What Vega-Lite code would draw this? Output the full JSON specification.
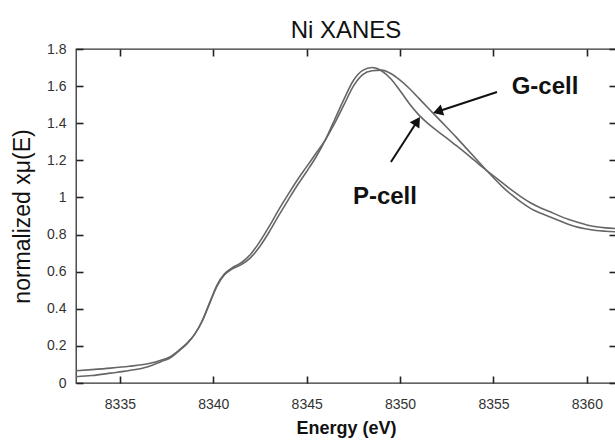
{
  "$schema": "https://vega.github.io/schema/vega-lite/v6.json",
  "width": 540,
  "height": 334,
  "autosize": {"type": "none"},
  "padding": {"left": 76, "top": 49, "right": 0, "bottom": 57},
  "background": "white",
  "title": {
    "text": "Ni XANES",
    "font": "Liberation Sans, Arial, sans-serif",
    "fontSize": 24,
    "fontWeight": "normal",
    "color": "#111",
    "baseline": "alphabetic",
    "offset": 9,
    "dy": 29
  },
  "config": {
    "view": {"stroke": "#333", "strokeWidth": 1.3},
    "axis": {
      "labelFont": "Liberation Sans, Arial, sans-serif",
      "labelFontSize": 14,
      "labelColor": "#333",
      "tickColor": "#222",
      "tickWidth": 1.6,
      "tickSize": 7,
      "offset": -7,
      "grid": false,
      "domain": false,
      "zindex": 1
    }
  },
  "datasets": {
    "spectra": [
      {"energy": 8332.65, "mu": 0.066, "cell": "P-cell"},
      {"energy": 8333.5, "mu": 0.072, "cell": "P-cell"},
      {"energy": 8334.5, "mu": 0.080, "cell": "P-cell"},
      {"energy": 8335.5, "mu": 0.090, "cell": "P-cell"},
      {"energy": 8336.5, "mu": 0.104, "cell": "P-cell"},
      {"energy": 8337.2, "mu": 0.122, "cell": "P-cell"},
      {"energy": 8337.7, "mu": 0.142, "cell": "P-cell"},
      {"energy": 8338.2, "mu": 0.180, "cell": "P-cell"},
      {"energy": 8338.6, "mu": 0.215, "cell": "P-cell"},
      {"energy": 8339.0, "mu": 0.262, "cell": "P-cell"},
      {"energy": 8339.4, "mu": 0.332, "cell": "P-cell"},
      {"energy": 8339.8, "mu": 0.428, "cell": "P-cell"},
      {"energy": 8340.2, "mu": 0.522, "cell": "P-cell"},
      {"energy": 8340.6, "mu": 0.583, "cell": "P-cell"},
      {"energy": 8341.0, "mu": 0.614, "cell": "P-cell"},
      {"energy": 8341.5, "mu": 0.638, "cell": "P-cell"},
      {"energy": 8342.0, "mu": 0.676, "cell": "P-cell"},
      {"energy": 8342.5, "mu": 0.737, "cell": "P-cell"},
      {"energy": 8343.0, "mu": 0.815, "cell": "P-cell"},
      {"energy": 8343.5, "mu": 0.902, "cell": "P-cell"},
      {"energy": 8344.0, "mu": 0.985, "cell": "P-cell"},
      {"energy": 8344.5, "mu": 1.066, "cell": "P-cell"},
      {"energy": 8345.0, "mu": 1.140, "cell": "P-cell"},
      {"energy": 8345.5, "mu": 1.218, "cell": "P-cell"},
      {"energy": 8346.0, "mu": 1.310, "cell": "P-cell"},
      {"energy": 8346.5, "mu": 1.420, "cell": "P-cell"},
      {"energy": 8347.0, "mu": 1.530, "cell": "P-cell"},
      {"energy": 8347.5, "mu": 1.630, "cell": "P-cell"},
      {"energy": 8348.0, "mu": 1.685, "cell": "P-cell"},
      {"energy": 8348.5, "mu": 1.700, "cell": "P-cell"},
      {"energy": 8349.0, "mu": 1.683, "cell": "P-cell"},
      {"energy": 8349.5, "mu": 1.640, "cell": "P-cell"},
      {"energy": 8350.0, "mu": 1.575, "cell": "P-cell"},
      {"energy": 8350.5, "mu": 1.505, "cell": "P-cell"},
      {"energy": 8351.0, "mu": 1.445, "cell": "P-cell"},
      {"energy": 8351.5, "mu": 1.398, "cell": "P-cell"},
      {"energy": 8352.0, "mu": 1.358, "cell": "P-cell"},
      {"energy": 8352.5, "mu": 1.320, "cell": "P-cell"},
      {"energy": 8353.0, "mu": 1.280, "cell": "P-cell"},
      {"energy": 8353.5, "mu": 1.240, "cell": "P-cell"},
      {"energy": 8354.0, "mu": 1.198, "cell": "P-cell"},
      {"energy": 8354.5, "mu": 1.156, "cell": "P-cell"},
      {"energy": 8355.0, "mu": 1.116, "cell": "P-cell"},
      {"energy": 8355.5, "mu": 1.077, "cell": "P-cell"},
      {"energy": 8356.0, "mu": 1.038, "cell": "P-cell"},
      {"energy": 8356.5, "mu": 1.002, "cell": "P-cell"},
      {"energy": 8357.0, "mu": 0.970, "cell": "P-cell"},
      {"energy": 8357.5, "mu": 0.945, "cell": "P-cell"},
      {"energy": 8358.0, "mu": 0.924, "cell": "P-cell"},
      {"energy": 8358.5, "mu": 0.902, "cell": "P-cell"},
      {"energy": 8359.0, "mu": 0.882, "cell": "P-cell"},
      {"energy": 8359.5, "mu": 0.866, "cell": "P-cell"},
      {"energy": 8360.0, "mu": 0.852, "cell": "P-cell"},
      {"energy": 8360.5, "mu": 0.842, "cell": "P-cell"},
      {"energy": 8361.0, "mu": 0.836, "cell": "P-cell"},
      {"energy": 8361.56, "mu": 0.832, "cell": "P-cell"},
      {"energy": 8332.65, "mu": 0.034, "cell": "G-cell"},
      {"energy": 8333.5, "mu": 0.040, "cell": "G-cell"},
      {"energy": 8334.5, "mu": 0.053, "cell": "G-cell"},
      {"energy": 8335.5, "mu": 0.067, "cell": "G-cell"},
      {"energy": 8336.5, "mu": 0.088, "cell": "G-cell"},
      {"energy": 8337.2, "mu": 0.115, "cell": "G-cell"},
      {"energy": 8337.7, "mu": 0.136, "cell": "G-cell"},
      {"energy": 8338.2, "mu": 0.176, "cell": "G-cell"},
      {"energy": 8338.6, "mu": 0.212, "cell": "G-cell"},
      {"energy": 8339.0, "mu": 0.262, "cell": "G-cell"},
      {"energy": 8339.4, "mu": 0.334, "cell": "G-cell"},
      {"energy": 8339.8, "mu": 0.432, "cell": "G-cell"},
      {"energy": 8340.2, "mu": 0.528, "cell": "G-cell"},
      {"energy": 8340.6, "mu": 0.588, "cell": "G-cell"},
      {"energy": 8341.0, "mu": 0.620, "cell": "G-cell"},
      {"energy": 8341.5, "mu": 0.648, "cell": "G-cell"},
      {"energy": 8342.0, "mu": 0.694, "cell": "G-cell"},
      {"energy": 8342.5, "mu": 0.763, "cell": "G-cell"},
      {"energy": 8343.0, "mu": 0.845, "cell": "G-cell"},
      {"energy": 8343.5, "mu": 0.933, "cell": "G-cell"},
      {"energy": 8344.0, "mu": 1.015, "cell": "G-cell"},
      {"energy": 8344.5, "mu": 1.094, "cell": "G-cell"},
      {"energy": 8345.0, "mu": 1.166, "cell": "G-cell"},
      {"energy": 8345.5, "mu": 1.238, "cell": "G-cell"},
      {"energy": 8346.0, "mu": 1.310, "cell": "G-cell"},
      {"energy": 8346.5, "mu": 1.400, "cell": "G-cell"},
      {"energy": 8347.0, "mu": 1.500, "cell": "G-cell"},
      {"energy": 8347.5, "mu": 1.600, "cell": "G-cell"},
      {"energy": 8348.0, "mu": 1.662, "cell": "G-cell"},
      {"energy": 8348.5, "mu": 1.683, "cell": "G-cell"},
      {"energy": 8349.0, "mu": 1.686, "cell": "G-cell"},
      {"energy": 8349.5, "mu": 1.668, "cell": "G-cell"},
      {"energy": 8350.0, "mu": 1.632, "cell": "G-cell"},
      {"energy": 8350.5, "mu": 1.587, "cell": "G-cell"},
      {"energy": 8351.0, "mu": 1.535, "cell": "G-cell"},
      {"energy": 8351.5, "mu": 1.482, "cell": "G-cell"},
      {"energy": 8352.0, "mu": 1.430, "cell": "G-cell"},
      {"energy": 8352.5, "mu": 1.378, "cell": "G-cell"},
      {"energy": 8353.0, "mu": 1.325, "cell": "G-cell"},
      {"energy": 8353.5, "mu": 1.270, "cell": "G-cell"},
      {"energy": 8354.0, "mu": 1.215, "cell": "G-cell"},
      {"energy": 8354.5, "mu": 1.160, "cell": "G-cell"},
      {"energy": 8355.0, "mu": 1.106, "cell": "G-cell"},
      {"energy": 8355.5, "mu": 1.056, "cell": "G-cell"},
      {"energy": 8356.0, "mu": 1.012, "cell": "G-cell"},
      {"energy": 8356.5, "mu": 0.973, "cell": "G-cell"},
      {"energy": 8357.0, "mu": 0.940, "cell": "G-cell"},
      {"energy": 8357.5, "mu": 0.916, "cell": "G-cell"},
      {"energy": 8358.0, "mu": 0.896, "cell": "G-cell"},
      {"energy": 8358.5, "mu": 0.876, "cell": "G-cell"},
      {"energy": 8359.0, "mu": 0.856, "cell": "G-cell"},
      {"energy": 8359.5, "mu": 0.840, "cell": "G-cell"},
      {"energy": 8360.0, "mu": 0.830, "cell": "G-cell"},
      {"energy": 8360.5, "mu": 0.822, "cell": "G-cell"},
      {"energy": 8361.0, "mu": 0.818, "cell": "G-cell"},
      {"energy": 8361.56, "mu": 0.815, "cell": "G-cell"}
    ],
    "arrows": [
      {"cell": "G-cell", "fromEnergy": 8355.19, "fromMu": 1.568, "toEnergy": 8352.02, "toMu": 1.463},
      {"cell": "P-cell", "fromEnergy": 8349.51, "fromMu": 1.191, "toEnergy": 8350.92, "toMu": 1.411}
    ],
    "labels": [
      {"cell": "G-cell", "energy": 8357.76, "mu": 1.595},
      {"cell": "P-cell", "energy": 8349.19, "mu": 1.002}
    ]
  },
  "layer": [
    {
      "data": {"name": "spectra"},
      "mark": {"type": "line", "interpolate": "monotone", "color": "#666", "strokeWidth": 1.6, "clip": true},
      "encoding": {
        "x": {
          "field": "energy",
          "type": "quantitative",
          "scale": {"domain": [8332.65, 8361.56], "nice": false, "zero": false},
          "axis": {
            "orient": "bottom",
            "values": [8335, 8340, 8345, 8350, 8355, 8360],
            "format": "d",
            "labelPadding": 14,
            "title": "Energy (eV)",
            "titleFont": "Liberation Sans, Arial, sans-serif",
            "titleFontSize": 18,
            "titleFontWeight": "bold",
            "titleColor": "#111",
            "titlePadding": 8
          }
        },
        "y": {
          "field": "mu",
          "type": "quantitative",
          "scale": {"domain": [0, 1.8], "nice": false},
          "axis": {
            "orient": "left",
            "values": [0, 0.2, 0.4, 0.6, 0.8, 1, 1.2, 1.4, 1.6, 1.8],
            "format": "~g",
            "labelPadding": 10,
            "title": "normalized xμ(E)",
            "titleFont": "Liberation Sans, Arial, sans-serif",
            "titleFontSize": 23,
            "titleFontWeight": "normal",
            "titleColor": "#111",
            "titlePadding": 12
          }
        },
        "detail": {"field": "cell"}
      }
    },
    {
      "data": {"name": "arrows"},
      "mark": {"type": "rule", "color": "#111", "strokeWidth": 2},
      "encoding": {
        "x": {
          "field": "fromEnergy",
          "type": "quantitative",
          "axis": {
            "orient": "top",
            "values": [8335, 8340, 8345, 8350, 8355, 8360],
            "labels": false,
            "title": null
          }
        },
        "y": {
          "field": "fromMu",
          "type": "quantitative",
          "axis": {
            "orient": "right",
            "values": [0, 0.2, 0.4, 0.6, 0.8, 1, 1.2, 1.4, 1.6, 1.8],
            "labels": false,
            "title": null
          }
        },
        "x2": {"field": "toEnergy"},
        "y2": {"field": "toMu"}
      }
    },
    {
      "data": {"name": "arrows"},
      "transform": [{"filter": "datum.cell === 'G-cell'"}],
      "mark": {"type": "point", "shape": "triangle-up", "filled": true, "color": "#111", "opacity": 1, "size": 130, "angle": 252},
      "encoding": {
        "x": {"field": "toEnergy", "type": "quantitative", "axis": null},
        "y": {"field": "toMu", "type": "quantitative", "axis": null}
      }
    },
    {
      "data": {"name": "arrows"},
      "transform": [{"filter": "datum.cell === 'P-cell'"}],
      "mark": {"type": "point", "shape": "triangle-up", "filled": true, "color": "#111", "opacity": 1, "size": 130, "angle": 33},
      "encoding": {
        "x": {"field": "toEnergy", "type": "quantitative", "axis": null},
        "y": {"field": "toMu", "type": "quantitative", "axis": null}
      }
    },
    {
      "data": {"name": "labels"},
      "mark": {
        "type": "text",
        "font": "Liberation Sans, Arial, sans-serif",
        "fontSize": 24,
        "fontWeight": "bold",
        "color": "#111",
        "align": "center",
        "baseline": "middle"
      },
      "encoding": {
        "x": {"field": "energy", "type": "quantitative", "axis": null},
        "y": {"field": "mu", "type": "quantitative", "axis": null},
        "text": {"field": "cell"}
      }
    }
  ],
  "resolve": {"axis": {"x": "independent", "y": "independent"}}
}
